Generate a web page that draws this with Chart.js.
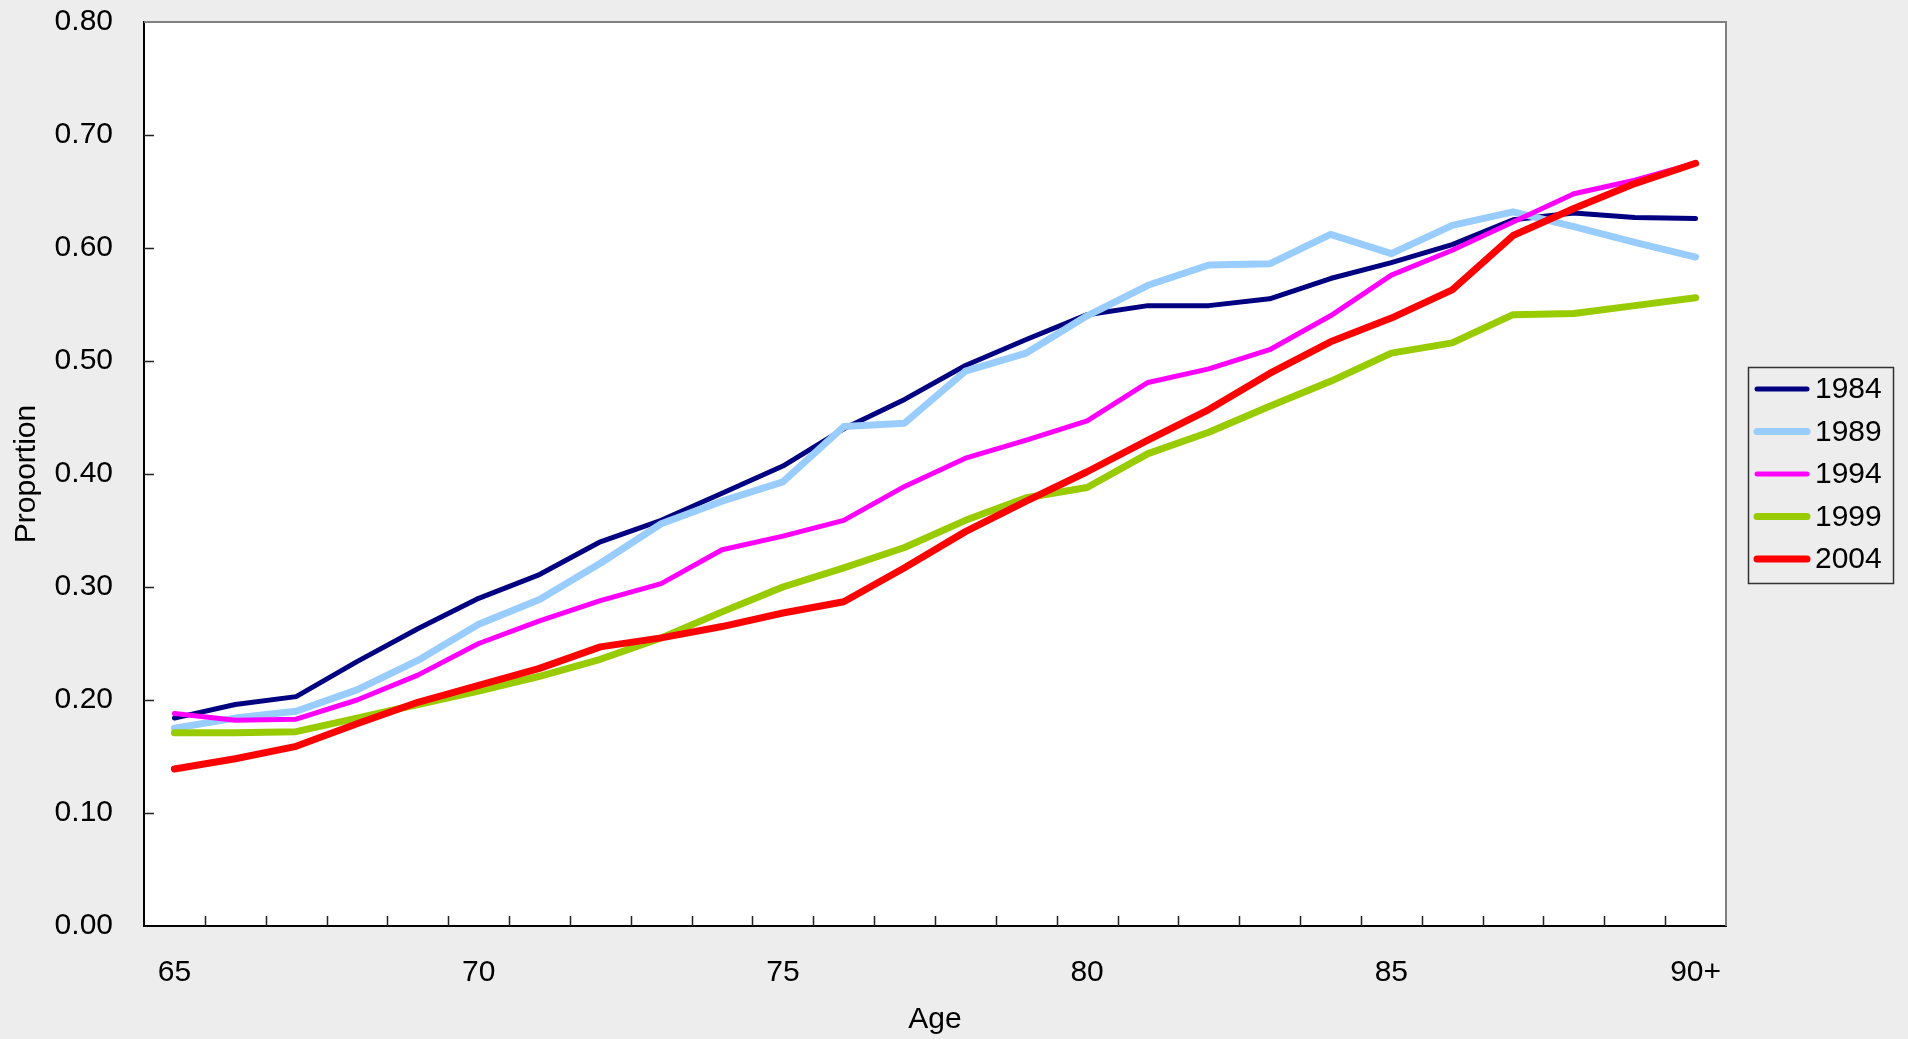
<!DOCTYPE html>
<html>
<head>
<meta charset="utf-8">
<script src="https://cdn.jsdelivr.net/npm/chart.js@4/dist/chart.umd.min.js"></script>
<style>
    body { margin: 0; background: #ededed; }
    #wrap { width: 1908px; height: 1039px; position: relative; }
</style>
</head>
<body>
<div id="wrap"><canvas id="chart-proportion"></canvas></div>
<script>
var ages = ['65', '66', '67', '68', '69', '70', '71', '72', '73', '74', '75', '76', '77', '78', '79',
    '80', '81', '82', '83', '84', '85', '86', '87', '88', '89', '90+'];

var years = ['1984', '1989', '1994', '1999', '2004'];

var values1984 = [0.184, 0.196, 0.203, 0.234, 0.263, 0.290, 0.311, 0.340, 0.359, 0.383, 0.407, 0.440, 0.466,
    0.496, 0.519, 0.541, 0.549, 0.549, 0.555, 0.573, 0.587, 0.603, 0.625, 0.631, 0.627, 0.626];
var values1989 = [0.175, 0.184, 0.190, 0.209, 0.235, 0.267, 0.289, 0.321, 0.356, 0.376, 0.393, 0.442, 0.445,
    0.491, 0.507, 0.540, 0.567, 0.585, 0.586, 0.612, 0.595, 0.620, 0.632, 0.619, 0.605, 0.592];
var values1994 = [0.188, 0.182, 0.183, 0.200, 0.222, 0.250, 0.270, 0.288, 0.303, 0.333, 0.345, 0.359, 0.389,
    0.414, 0.430, 0.447, 0.481, 0.493, 0.510, 0.540, 0.576, 0.598, 0.623, 0.648, 0.660, 0.675];
var values1999 = [0.171, 0.171, 0.172, 0.184, 0.196, 0.208, 0.221, 0.236, 0.255, 0.278, 0.300, 0.317, 0.335,
    0.359, 0.379, 0.388, 0.418, 0.437, 0.460, 0.482, 0.507, 0.516, 0.541, 0.542, 0.549, 0.556];
var values2004 = [0.139, 0.148, 0.159, 0.179, 0.198, 0.213, 0.228, 0.247, 0.255, 0.265, 0.277, 0.287, 0.317,
    0.349, 0.376, 0.402, 0.430, 0.457, 0.489, 0.517, 0.538, 0.563, 0.611, 0.635, 0.657, 0.675];

var yTicks = [0, 0.1, 0.2, 0.3, 0.4, 0.5, 0.6, 0.7, 0.8];

var seriesValues = [values1984, values1989, values1994, values1999, values2004];
var seriesColors = ['#000080', '#99ccff', '#ff00ff', '#99cc00', '#ff0000'];
var seriesWidths = [5, 7, 5, 7, 7];

var FONT = "'Liberation Sans', Arial, sans-serif";

// plot area background, excel style frame, inward ticks and the boxed legend
var excelLook = {
    id: 'excelLook',
    beforeDraw: function (chart) {
        var a = chart.chartArea;
        var ctx = chart.ctx;
        ctx.save();
        ctx.fillStyle = '#ffffff';
        ctx.fillRect(a.left, a.top, a.right - a.left, a.bottom - a.top);
        ctx.restore();
    },
    afterDatasetsDraw: function (chart) {
        var a = chart.chartArea;
        var ctx = chart.ctx;
        var xs = chart.scales.x;
        var ys = chart.scales.y;
        ctx.save();
        ctx.strokeStyle = '#808080';
        ctx.lineWidth = 2;
        ctx.beginPath();
        ctx.moveTo(a.left, a.top);
        ctx.lineTo(a.right, a.top);
        ctx.lineTo(a.right, a.bottom);
        ctx.stroke();

        ctx.strokeStyle = '#222';
        ctx.lineWidth = 1.5;
        ctx.beginPath();
        for (var i = 1; i < yTicks.length - 1; i++) {
            var py = Math.round(ys.getPixelForValue(yTicks[i])) + 0.5;
            ctx.moveTo(a.left, py);
            ctx.lineTo(a.left + 10, py);
        }
        for (var j = 1; j < ages.length; j++) {
            var px = Math.round((xs.getPixelForValue(j - 1) + xs.getPixelForValue(j)) / 2) + 0.5;
            ctx.moveTo(px, a.bottom);
            ctx.lineTo(px, a.bottom - 10);
        }
        ctx.stroke();

        // legend box
        ctx.strokeStyle = '#333';
        ctx.lineWidth = 1.5;
        ctx.strokeRect(1748.5, 367.5, 145, 216);
        ctx.font = '30px ' + FONT;
        ctx.textBaseline = 'middle';
        ctx.textAlign = 'left';
        ctx.lineCap = 'round';
        chart.data.datasets.forEach(function (ds, k) {
            var ly = 389 + k * 42.5;
            ctx.strokeStyle = ds.borderColor;
            ctx.lineWidth = ds.borderWidth;
            ctx.beginPath();
            ctx.moveTo(1757, ly);
            ctx.lineTo(1807, ly);
            ctx.stroke();
            ctx.fillStyle = '#000';
            ctx.fillText(ds.label, 1815, ly + 1);
        });
        ctx.restore();
    }
};

window.onload = function () {
    var ctx = document.getElementById('chart-proportion').getContext('2d');

    var chartData = {
        labels: ages,
        datasets: []
    };
    for (var i = 0; i < years.length; i++) {
        chartData.datasets.push({
            label: years[i],
            data: seriesValues[i],
            borderColor: seriesColors[i],
            backgroundColor: seriesColors[i],
            borderWidth: seriesWidths[i],
            borderCapStyle: 'round',
            borderJoinStyle: 'round',
            pointRadius: 0,
            tension: 0,
            order: years.length - i
        });
    }

    var chart = new Chart(ctx, {
        type: 'line',
        data: chartData,
        plugins: [excelLook],
        options: {
            responsive: true,
            maintainAspectRatio: false,
            animation: false,
            layout: {
                padding: { left: 0, right: 182, top: 22, bottom: 0 }
            },
            plugins: {
                legend: { display: false },
                tooltip: { enabled: false }
            },
            scales: {
                x: {
                    offset: true,
                    grid: { display: false },
                    border: { display: true, color: '#000', width: 2 },
                    ticks: {
                        autoSkip: false,
                        maxRotation: 0,
                        padding: 21,
                        color: '#000',
                        font: { family: FONT, size: 30 },
                        callback: function (value, index) {
                            return index % 5 == 0 ? ages[index] : '';
                        }
                    },
                    title: {
                        display: true,
                        text: 'Age',
                        color: '#000',
                        font: { family: FONT, size: 30 },
                        padding: { top: 0, bottom: 1 }
                    },
                    afterFit: function (scale) {
                        scale.height = 113;
                        scale.paddingLeft = 0;
                        scale.paddingRight = 0;
                    }
                },
                y: {
                    min: 0,
                    max: 0.8,
                    grid: { display: false },
                    border: { display: true, color: '#000', width: 2 },
                    afterBuildTicks: function (scale) {
                        scale.ticks = yTicks.map(function (v) { return { value: v }; });
                    },
                    ticks: {
                        padding: 23,
                        color: '#000',
                        font: { family: FONT, size: 30 },
                        callback: function (value) {
                            return Number(value).toFixed(2);
                        }
                    },
                    title: {
                        display: true,
                        text: 'Proportion',
                        color: '#000',
                        font: { family: FONT, size: 30 },
                        padding: { top: 9, bottom: 0 }
                    },
                    afterFit: function (scale) {
                        scale.width = 144;
                        scale.paddingTop = 0;
                        scale.paddingBottom = 0;
                    }
                }
            }
        }
    });
};
</script>
</body>
</html>
